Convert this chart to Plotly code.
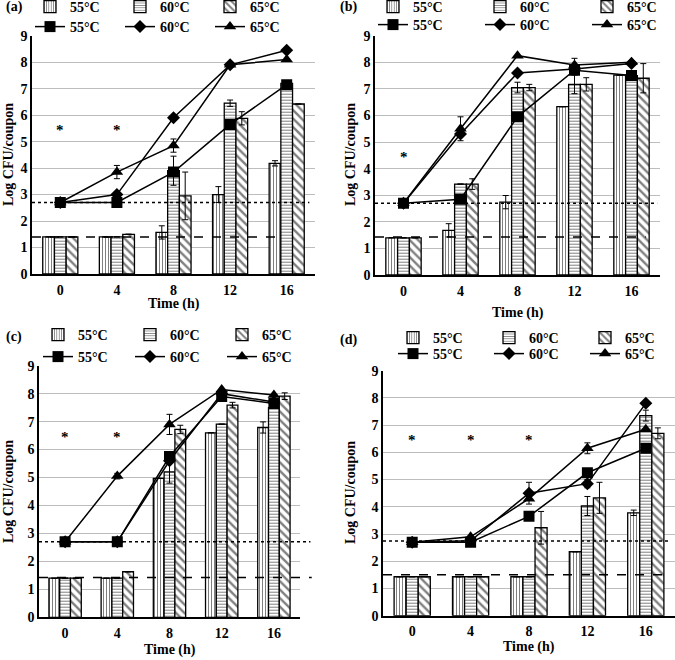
import plotly.graph_objects as go

W, H = 675, 660
times = ["0", "4", "8", "12", "16"]
temps = ["55°C", "60°C", "65°C"]

# ---------------- Panel (a) ----------------
a_bar_55 = [1.4, 1.4, 1.57, 3.0, 4.18]
a_bar_60 = [1.4, 1.4, 3.9, 6.45, 7.2]
a_bar_65 = [1.4, 1.5, 2.95, 5.88, 6.42]
a_bar_55_err = [None, None, 0.25, 0.3, 0.1]
a_bar_60_err = [None, None, 0.55, 0.12, None]
a_bar_65_err = [None, None, 0.9, 0.25, None]
a_line_55 = [2.7, 2.7, 3.85, 5.65, 7.15]
a_line_60 = [2.7, 3.0, 5.9, 7.9, 8.45]
a_line_65 = [2.7, 3.85, 4.85, 7.9, 8.1]
a_line_55_err = [None, None, None, None, None]
a_line_60_err = [None, None, None, None, None]
a_line_65_err = [None, 0.25, 0.25, None, None]
a_star_times = ["0", "4"]
a_star_y = [5.45, 5.45]
a_lod_dotted = 2.7
a_lod_dashed = 1.4

# ---------------- Panel (b) ----------------
b_bar_55 = [1.4, 1.68, 2.74, 6.33, 7.52]
b_bar_60 = [1.4, 3.42, 7.05, 7.17, 7.5]
b_bar_65 = [1.4, 3.42, 7.05, 7.17, 7.4]
b_bar_55_err = [None, 0.25, 0.25, None, None]
b_bar_60_err = [None, None, 0.2, 0.35, None]
b_bar_65_err = [None, 0.2, 0.12, 0.25, 0.55]
b_line_55 = [2.7, 2.85, 5.95, 7.7, 7.5]
b_line_60 = [2.7, 5.3, 7.6, 7.75, 7.95]
b_line_65 = [2.7, 5.5, 8.25, 7.9, 8.0]
b_line_55_err = [None, None, None, None, None]
b_line_60_err = [None, None, None, None, None]
b_line_65_err = [None, 0.45, None, 0.25, None]
b_star_times = ["0"]
b_star_y = [4.45]
b_lod_dotted = 2.7
b_lod_dashed = 1.43

# ---------------- Panel (c) ----------------
c_bar_55 = [1.4, 1.4, 4.97, 6.6, 6.79]
c_bar_60 = [1.4, 1.4, 5.2, 6.91, 7.5]
c_bar_65 = [1.4, 1.63, 6.72, 7.59, 7.91]
c_bar_55_err = [None, None, None, None, 0.2]
c_bar_60_err = [None, None, 0.4, None, None]
c_bar_65_err = [None, None, 0.15, 0.1, 0.12]
c_line_55 = [2.7, 2.7, 5.75, 7.9, 7.65]
c_line_60 = [2.7, 2.7, 5.6, 8.0, 7.7]
c_line_65 = [2.7, 5.05, 6.9, 8.15, 7.95]
c_line_55_err = [None, None, None, None, None]
c_line_60_err = [None, None, None, None, None]
c_line_65_err = [None, 0.1, 0.36, None, None]
c_star_times = ["0", "4"]
c_star_y = [6.45, 6.45]
c_lod_dotted = 2.7
c_lod_dashed = 1.42

# ---------------- Panel (d) ----------------
d_bar_55 = [1.43, 1.43, 1.43, 2.35, 3.78]
d_bar_60 = [1.43, 1.43, 1.43, 4.03, 7.35]
d_bar_65 = [1.43, 1.43, 3.23, 4.33, 6.7]
d_bar_55_err = [None, None, None, None, 0.1]
d_bar_60_err = [None, None, None, 0.35, 0.2]
d_bar_65_err = [None, None, 0.6, 0.57, 0.2]
d_line_55 = [2.7, 2.7, 3.65, 5.25, 6.15]
d_line_60 = [2.7, 2.75, 4.5, 4.85, 7.8]
d_line_65 = [2.7, 2.9, 4.3, 6.15, 6.85]
d_line_55_err = [None, None, None, None, None]
d_line_60_err = [None, None, 0.4, 0.15, None]
d_line_65_err = [None, None, None, 0.2, None]
d_star_times = ["0", "4", "8"]
d_star_y = [6.45, 6.45, 6.45]
d_lod_dotted = 2.74
d_lod_dashed = 1.5

y_ticks = [0, 1, 2, 3, 4, 5, 6, 7, 8, 9]

FONT = "Liberation Serif"


def px_x(v):
    return v / W


def px_y(v):
    return 1 - v / H


panels = [
    dict(label="(a)", bars=[a_bar_55, a_bar_60, a_bar_65],
         bar_err=[a_bar_55_err, a_bar_60_err, a_bar_65_err],
         lines=[a_line_55, a_line_60, a_line_65],
         line_err=[a_line_55_err, a_line_60_err, a_line_65_err],
         star_t=a_star_times, star_y=a_star_y,
         dotted=a_lod_dotted, dashed=a_lod_dashed,
         xdom=[px_x(32), px_x(315)], ydom=[px_y(274), px_y(35.7)],
         dot_end=0.98, dash_end=0.89,
         lab=(4, 7), leg_x=70, leg_y=(7, 27), leg_w=91,
         ytitle=(8, 155), xtitle_y=304),
    dict(label="(b)", bars=[b_bar_55, b_bar_60, b_bar_65],
         bar_err=[b_bar_55_err, b_bar_60_err, b_bar_65_err],
         lines=[b_line_55, b_line_60, b_line_65],
         line_err=[b_line_55_err, b_line_60_err, b_line_65_err],
         star_t=b_star_times, star_y=b_star_y,
         dotted=b_lod_dotted, dashed=b_lod_dashed,
         xdom=[px_x(375), px_x(660)], ydom=[px_y(275), px_y(35.7)],
         dot_end=0.99, dash_end=0.95,
         lab=(338, 7), leg_x=413, leg_y=(7, 25), leg_w=108,
         ytitle=(350, 155), xtitle_y=313),
    dict(label="(c)", bars=[c_bar_55, c_bar_60, c_bar_65],
         bar_err=[c_bar_55_err, c_bar_60_err, c_bar_65_err],
         lines=[c_line_55, c_line_60, c_line_65],
         line_err=[c_line_55_err, c_line_60_err, c_line_65_err],
         star_t=c_star_times, star_y=c_star_y,
         dotted=c_lod_dotted, dashed=c_lod_dashed,
         xdom=[px_x(39), px_x(300)], ydom=[px_y(617.3), px_y(365.7)],
         dot_end=1.04, dash_end=1.045,
         lab=(4, 337), leg_x=78, leg_y=(335, 357), leg_w=93,
         ytitle=(8, 492), xtitle_y=650),
    dict(label="(d)", bars=[d_bar_55, d_bar_60, d_bar_65],
         bar_err=[d_bar_55_err, d_bar_60_err, d_bar_65_err],
         lines=[d_line_55, d_line_60, d_line_65],
         line_err=[d_line_55_err, d_line_60_err, d_line_65_err],
         star_t=d_star_times, star_y=d_star_y,
         dotted=d_lod_dotted, dashed=d_lod_dashed,
         xdom=[px_x(383), px_x(675)], ydom=[px_y(615.7), px_y(370.7)],
         dot_end=0.977, dash_end=0.977,
         lab=(338, 340), leg_x=433, leg_y=(338, 354), leg_w=97,
         ytitle=(350, 493), xtitle_y=647),
]

patterns = ["|", "-", "\\"]
pat_size = [3, 3, 6]
pat_sol = [0.35, 0.35, 0.4]
symbols = ["square", "diamond", "triangle-up"]
sym_size = [11, 10, 11]

fig = go.Figure()
layout = dict(
    width=W, height=H, margin=dict(l=0, r=0, t=0, b=0, autoexpand=False),
    paper_bgcolor="white", plot_bgcolor="white",
    font=dict(family=FONT, size=14, color="black", weight="bold"),
    barmode="group", bargap=0.38, bargroupgap=0,
    annotations=[], shapes=[],
)

for i, p in enumerate(panels):
    n = i + 1
    xa = "x" if n == 1 else f"x{n}"
    ya = "y" if n == 1 else f"y{n}"
    xkey = "xaxis" if n == 1 else f"xaxis{n}"
    ykey = "yaxis" if n == 1 else f"yaxis{n}"
    leg_bar = "legend" if n == 1 else f"legend{2 * n - 1}"
    leg_line = f"legend{2 * n}"

    for k in range(3):
        fig.add_trace(go.Bar(
            x=times, y=p["bars"][k], name=temps[k], xaxis=xa, yaxis=ya,
            legend=leg_bar, offsetgroup=str(k),
            marker=dict(color="white", line=dict(color="black", width=1.3),
                        pattern=dict(shape=patterns[k], fgcolor="black", bgcolor="white",
                                     size=pat_size[k], solidity=pat_sol[k])),
            error_y=dict(type="data", array=p["bar_err"][k], visible=True,
                         color="black", thickness=1, width=3),
        ))
    for k in range(3):
        fig.add_trace(go.Scatter(
            x=times, y=p["lines"][k], name=temps[k], xaxis=xa, yaxis=ya,
            legend=leg_line, mode="lines+markers",
            line=dict(color="black", width=1.5),
            marker=dict(symbol=symbols[k], size=sym_size[k], color="black"),
            error_y=dict(type="data", array=p["line_err"][k], visible=True,
                         color="black", thickness=1, width=3),
        ))

    layout[xkey] = dict(
        domain=p["xdom"], anchor=ya, type="category", categoryorder="array",
        categoryarray=times, range=[-0.5, len(times) - 0.5], showgrid=False,
        showline=True, linecolor="black", linewidth=1.5, ticks="",
        ticklabelstandoff=2, zeroline=False,
        tickfont=dict(family=FONT, size=14, weight="bold"),
    )
    layout[ykey] = dict(
        domain=p["ydom"], anchor=xa, range=[0, 9], tickvals=y_ticks,
        showgrid=True, gridcolor="#bdbdbd", gridwidth=1, showline=True,
        linecolor="black", linewidth=1.5, ticks="", zeroline=False,
        tickfont=dict(family=FONT, size=14, weight="bold"),
    )

    lx = px_x(p["leg_x"] - 40)
    for leg, ly in ((leg_bar, p["leg_y"][0]), (leg_line, p["leg_y"][1])):
        layout[leg] = dict(
            x=lx, xanchor="left", y=px_y(ly), yanchor="middle",
            orientation="h", entrywidth=p["leg_w"] - 46, entrywidthmode="pixels",
            bgcolor="rgba(0,0,0,0)", borderwidth=0,
            font=dict(family=FONT, size=14, weight="bold"), itemwidth=30,
            tracegroupgap=0,
        )

    # LOD lines
    layout["shapes"].append(dict(
        type="line", xref=f"{xa} domain", yref=ya, x0=0, x1=p["dot_end"],
        y0=p["dotted"], y1=p["dotted"], line=dict(color="black", width=1.5, dash="dot")))
    layout["shapes"].append(dict(
        type="line", xref=f"{xa} domain", yref=ya, x0=0, x1=p["dash_end"],
        y0=p["dashed"], y1=p["dashed"], line=dict(color="black", width=1.5, dash="dash")))

    # asterisks
    for t, yv in zip(p["star_t"], p["star_y"]):
        layout["annotations"].append(dict(
            x=times.index(t), y=yv, xref=xa, yref=ya, text="*", showarrow=False,
            font=dict(family=FONT, size=15, weight="bold", color="black")))

    # panel label
    layout["annotations"].append(dict(
        x=px_x(p["lab"][0]), y=px_y(p["lab"][1]), xref="paper", yref="paper",
        xanchor="left", yanchor="middle", text=p["label"], showarrow=False,
        font=dict(family=FONT, size=14, weight="bold", color="black")))
    # y title
    layout["annotations"].append(dict(
        x=px_x(p["ytitle"][0]), y=px_y(p["ytitle"][1]), xref="paper", yref="paper",
        xanchor="center", yanchor="middle", text="Log CFU/coupon", textangle=-90,
        showarrow=False, font=dict(family=FONT, size=14, weight="bold", color="black")))
    # x title
    layout["annotations"].append(dict(
        x=0.5, y=px_y(p["xtitle_y"]), xref=f"{xa} domain", yref="paper",
        xanchor="center", yanchor="middle", text="Time (h)", showarrow=False,
        font=dict(family=FONT, size=14, weight="bold", color="black")))

fig.update_layout(**layout)
fig.write_html(
    "out.html",
    config={"displayModeBar": False},
    post_script="document.body.style.margin='0';document.body.style.padding='0';",
)
